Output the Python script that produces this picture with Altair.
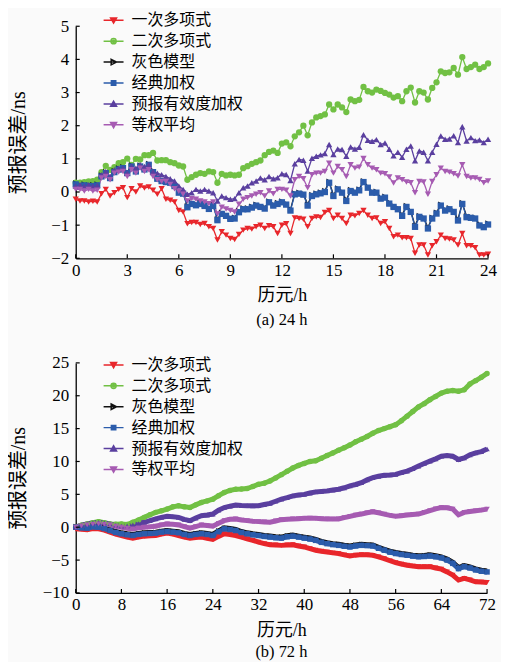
import altair as alt
import pandas as pd

FONT = "Liberation Serif, Noto Sans CJK SC"
CJK = "Noto Sans CJK SC"

series = ["一次多项式", "二次多项式", "灰色模型", "经典加权", "预报有效度加权", "等权平均"]
colors = ["#e8262b", "#71c044", "#111111", "#2b5cab", "#5a3f9f", "#a65bb2"]
markers = ["triangle-down", "circle", "triangle-right", "square", "triangle-up", "triangle-down"]
# legend glyphs: a short line with a small (outlined twice, so it reads as solid) marker
legend_paths = [
    "M-1,0H1M-0.3,-0.24L0.3,-0.24L0,0.28ZM-0.12,-0.14L0.12,-0.14L0,0.08Z",
    "M-1,0H1M0.26,0A0.26,0.26 0 1,1 -0.26,0A0.26,0.26 0 1,1 0.26,0ZM0.1,0A0.1,0.1 0 1,1 -0.1,0A0.1,0.1 0 1,1 0.1,0Z",
    "M-1,0H1M-0.24,-0.28L0.3,0L-0.24,0.28Z",
    "M-1,0H1M-0.22,-0.22H0.22V0.22H-0.22ZM-0.08,-0.08H0.08V0.08H-0.08Z",
    "M-1,0H1M-0.3,0.24L0.3,0.24L0,-0.28ZM-0.12,0.14L0.12,0.14L0,-0.08Z",
    "M-1,0H1M-0.3,-0.24L0.3,-0.24L0,0.28ZM-0.12,-0.14L0.12,-0.14L0,0.08Z",
]

# ---------------- (a) 24 h, 15-min epochs ----------------
hours_a = [i * 0.25 for i in range(97)]
xticks_a = [0, 3, 6, 9, 12, 15, 18, 21, 24]
yticks_a = [-2, -1, 0, 1, 2, 3, 4, 5]

red_a = [-0.22, -0.27, -0.27, -0.30, -0.28, -0.30, -0.05, 0.08, -0.12, -0.02, 0.08, 0.13,
         -0.17, 0.10, 0.00, 0.18, 0.12, 0.15, 0.05, -0.07, 0.10, -0.22, -0.25, -0.30,
         -0.56, -0.60, -0.96, -0.92, -0.92, -0.98, -0.95, -1.05, -1.10, -1.45, -1.20, -1.30,
         -1.40, -1.43, -1.28, -1.15, -1.10, -1.12, -1.05, -1.00, -1.10, -1.02, -1.05, -1.25,
         -1.00, -0.96, -1.25, -0.78, -0.80, -0.82, -1.05, -0.80, -0.75, -0.77, -0.62, -0.56,
         -0.80, -0.70, -0.80, -0.95, -0.70, -0.72, -0.65, -0.56, -0.70, -0.80, -0.78, -0.95,
         -0.90, -1.10, -1.35, -1.30, -1.38, -1.38, -1.40, -1.85, -1.60, -1.60, -1.90, -1.62,
         -1.50, -1.30, -1.40, -1.42, -1.45, -1.60, -1.25, -1.62, -1.62, -1.68, -1.90, -1.90,
         -1.88]
green_a = [0.28, 0.28, 0.30, 0.32, 0.33, 0.37, 0.60, 0.79, 0.67, 0.75, 0.87, 0.90,
           1.01, 0.82, 1.00, 0.98, 1.11, 1.11, 1.18, 0.95, 0.96, 0.96, 0.90, 0.87,
           0.80, 0.77, 0.37, 0.45, 0.52, 0.57, 0.55, 0.62, 0.60, 0.28, 0.55, 0.50,
           0.52, 0.50, 0.52, 0.72, 0.78, 0.85, 0.90, 0.95, 1.11, 1.21, 1.25, 1.18,
           1.46, 1.50, 1.38, 1.68, 1.80, 2.00, 1.71, 2.10, 2.25, 2.29, 2.34, 2.64,
           2.49, 2.64, 2.55, 2.41, 2.79, 2.74, 2.78, 3.17, 3.04, 3.00, 3.09, 3.05,
           2.99, 2.94, 2.85, 2.89, 2.74, 3.04, 3.15, 2.70, 3.04, 3.00, 2.79, 3.14,
           3.31, 3.64, 3.59, 3.61, 3.74, 3.54, 4.07, 3.71, 3.77, 3.84, 3.71, 3.77,
           3.88]
black_a = [0.26, 0.21, 0.23, 0.21, 0.21, 0.23, 0.50, 0.60, 0.45, 0.63, 0.71, 0.75,
           0.60, 0.80, 0.65, 0.80, 0.71, 0.85, 0.63, 0.43, 0.36, 0.33, 0.31, 0.21,
           0.01, -0.02, -0.43, -0.33, -0.37, -0.33, -0.39, -0.48, -0.39, -0.82, -0.63, -0.69,
           -0.78, -0.77, -0.58, -0.49, -0.49, -0.44, -0.38, -0.42, -0.47, -0.28, -0.38, -0.33,
           -0.28, -0.35, -0.53, -0.04, -0.02, -0.05, -0.38, -0.09, -0.04, -0.01, 0.03, 0.31,
           -0.09, 0.11, 0.01, -0.24, 0.06, 0.01, 0.08, 0.33, 0.16, 0.01, 0.01, -0.17,
           -0.14, -0.32, -0.42, -0.49, -0.69, -0.42, -0.57, -1.02, -0.72, -0.77, -1.07, -0.77,
           -0.62, -0.38, -0.53, -0.49, -0.57, -0.83, -0.33, -0.73, -0.75, -0.77, -0.98, -1.03,
           -0.95]
blue_a = [0.23, 0.18, 0.20, 0.18, 0.18, 0.20, 0.47, 0.57, 0.42, 0.60, 0.68, 0.72,
          0.57, 0.77, 0.62, 0.77, 0.68, 0.82, 0.60, 0.40, 0.33, 0.30, 0.28, 0.18,
          -0.02, -0.05, -0.46, -0.36, -0.40, -0.36, -0.42, -0.51, -0.42, -0.85, -0.66, -0.72,
          -0.81, -0.80, -0.61, -0.52, -0.52, -0.47, -0.41, -0.45, -0.50, -0.31, -0.41, -0.36,
          -0.31, -0.38, -0.56, -0.07, -0.05, -0.08, -0.41, -0.12, -0.07, -0.04, 0.00, 0.28,
          -0.12, 0.08, -0.02, -0.27, 0.03, -0.02, 0.05, 0.30, 0.13, -0.02, -0.02, -0.20,
          -0.17, -0.35, -0.45, -0.52, -0.72, -0.45, -0.60, -1.05, -0.75, -0.80, -1.10, -0.80,
          -0.65, -0.41, -0.56, -0.52, -0.60, -0.86, -0.36, -0.76, -0.78, -0.80, -1.01, -1.06,
          -0.98]
purple_a = [0.18, 0.22, 0.18, 0.22, 0.18, 0.20, 0.52, 0.62, 0.47, 0.67, 0.72, 0.72,
            0.57, 0.77, 0.72, 0.82, 0.77, 0.82, 0.62, 0.57, 0.52, 0.47, 0.40, 0.33,
            0.18, 0.08, -0.07, -0.02, 0.08, 0.03, 0.08, 0.03, -0.02, -0.27, -0.12, -0.17,
            -0.22, -0.20, -0.02, 0.13, 0.18, 0.28, 0.33, 0.42, 0.37, 0.47, 0.40, 0.43,
            0.55, 0.53, 0.35, 0.85, 0.98, 0.96, 0.63, 1.02, 1.08, 1.12, 1.16, 1.43,
            1.13, 1.30, 1.28, 1.08, 1.36, 1.30, 1.35, 1.73, 1.56, 1.53, 1.58, 1.43,
            1.48, 1.29, 1.09, 1.20, 1.05, 1.29, 1.39, 0.94, 1.24, 1.20, 0.94, 1.20,
            1.44, 1.69, 1.59, 1.60, 1.70, 1.49, 1.97, 1.54, 1.64, 1.55, 1.57, 1.49,
            1.59]
pink_a = [0.08, 0.08, 0.03, 0.08, 0.03, 0.05, 0.42, 0.47, 0.37, 0.57, 0.60, 0.62,
          0.47, 0.67, 0.57, 0.72, 0.62, 0.67, 0.47, 0.37, 0.32, 0.32, 0.23, 0.10,
          0.02, -0.07, -0.27, -0.20, -0.22, -0.27, -0.30, -0.35, -0.30, -0.66, -0.46, -0.51,
          -0.56, -0.60, -0.37, -0.22, -0.17, -0.12, -0.07, -0.02, -0.12, 0.03, -0.05, 0.08,
          0.08, 0.05, -0.12, 0.37, 0.47, 0.40, 0.13, 0.52, 0.57, 0.57, 0.62, 0.87,
          0.57, 0.77, 0.67, 0.47, 0.82, 0.72, 0.75, 1.01, 0.82, 0.72, 0.67, 0.57,
          0.55, 0.45, 0.27, 0.42, 0.37, 0.30, 0.28, -0.02, 0.32, 0.30, -0.07, 0.32,
          0.52, 0.72, 0.62, 0.60, 0.55, 0.48, 0.82, 0.47, 0.42, 0.42, 0.38, 0.28,
          0.33]

# ---------------- (b) 72 h, hourly readings ----------------
hours_b = list(range(73))
xticks_b = [0, 8, 16, 24, 32, 40, 48, 56, 64, 72]
yticks_b = [-10, -5, 0, 5, 10, 15, 20, 25]

red_b = [-0.25, -0.3, -0.4, -0.2, -0.25, -0.45, -0.75, -1.05, -1.26, -1.5, -1.66, -1.5, -1.36,
         -1.3, -1.26, -1.05, -0.9, -1.05, -1.26, -1.5, -1.66, -1.55, -1.5, -1.7, -1.86,
         -1.4, -1.0, -1.1, -1.26, -1.5, -1.76, -2.0, -2.26, -2.5, -2.66, -2.7, -2.76,
         -2.7, -2.66, -2.85, -3.0, -3.25, -3.5, -3.65, -3.77, -3.9, -4.0, -4.2, -4.37,
         -4.25, -4.17, -4.2, -4.27, -4.5, -4.77, -5.1, -5.38, -5.6, -5.78, -5.9, -6.0,
         -6.0, -6.0, -6.2, -6.38, -6.8, -7.29, -8.04, -7.79, -8.0, -8.3, -8.35, -8.4]
green_b = [0.0, 0.3, 0.5, 0.7, 0.85, 0.7, 0.5, 0.45, 0.5, 0.4, 0.75, 1.1, 1.5,
           1.9, 2.26, 2.5, 2.76, 3.1, 3.27, 3.1, 3.0, 3.4, 3.77, 4.0, 4.27,
           4.8, 5.28, 5.6, 5.78, 5.8, 5.88, 6.2, 6.53, 6.7, 7.03, 7.5, 8.0,
           8.5, 9.0, 9.4, 9.7, 10.0, 10.1, 10.5, 10.9, 11.3, 11.7, 12.1, 12.5,
           13.0, 13.4, 13.8, 14.3, 14.7, 15.0, 15.3, 15.6, 16.2, 16.9, 17.6, 18.3,
           18.8, 19.4, 19.9, 20.4, 20.7, 20.8, 20.7, 20.9, 21.8, 22.3, 22.8, 23.4]
black_b = [0.1, 0.05, 0.0, 0.2, 0.15, -0.05, -0.35, -0.65, -0.85, -1.0, -1.1, -0.95, -0.85,
           -0.8, -0.75, -0.6, -0.5, -0.6, -0.7, -0.95, -1.1, -0.95, -0.85, -0.95, -1.1,
           -0.55, -0.1, -0.2, -0.35, -0.65, -0.85, -1.0, -1.1, -1.25, -1.35, -1.45, -1.5,
           -1.3, -1.2, -1.35, -1.5, -1.65, -1.85, -2.15, -2.35, -2.5, -2.6, -2.75, -2.85,
           -2.7, -2.6, -2.65, -2.7, -3.05, -3.35, -3.65, -3.85, -4.0, -4.1, -4.25, -4.35,
           -4.3, -4.2, -4.35, -4.5, -4.85, -5.35, -6.15, -5.85, -6.05, -6.35, -6.55, -6.65]
blue_b = [0.0, -0.1, -0.15, 0.05, 0.0, -0.2, -0.5, -0.8, -1.0, -1.15, -1.26, -1.1, -1.0,
          -0.95, -0.9, -0.75, -0.65, -0.75, -0.85, -1.1, -1.26, -1.1, -1.0, -1.1, -1.26,
          -0.7, -0.25, -0.35, -0.5, -0.8, -1.0, -1.15, -1.26, -1.4, -1.5, -1.6, -1.66,
          -1.45, -1.36, -1.5, -1.66, -1.8, -2.0, -2.3, -2.5, -2.65, -2.76, -2.9, -3.0,
          -2.85, -2.76, -2.8, -2.86, -3.2, -3.5, -3.8, -4.0, -4.15, -4.27, -4.4, -4.5,
          -4.45, -4.37, -4.5, -4.67, -5.0, -5.5, -6.3, -6.0, -6.2, -6.5, -6.7, -6.8]
purple_b = [0.0, 0.3, 0.5, 0.65, 0.75, 0.65, 0.5, 0.3, 0.15, 0.2, 0.35, 0.55, 0.75,
            1.0, 1.26, 1.5, 1.66, 1.6, 1.5, 1.2, 1.0, 1.4, 1.76, 1.85, 2.0,
            2.6, 3.0, 3.2, 3.37, 3.3, 3.27, 3.25, 3.27, 3.45, 3.62, 3.95, 4.27,
            4.5, 4.77, 4.9, 5.0, 5.2, 5.38, 5.45, 5.53, 5.65, 5.78, 6.0, 6.28,
            6.5, 6.78, 7.2, 7.54, 7.75, 7.9, 7.95, 8.04, 8.3, 8.54, 8.9, 9.3,
            9.7, 10.05, 10.4, 10.8, 10.9, 10.8, 10.3, 10.55, 11.0, 11.3, 11.5, 11.9]
pink_b = [0.0, 0.2, 0.35, 0.45, 0.5, 0.45, 0.35, 0.15, 0.0, -0.15, -0.25, -0.1, 0.0,
          0.05, 0.15, 0.35, 0.5, 0.45, 0.35, 0.1, -0.15, 0.1, 0.35, 0.25, 0.15,
          0.6, 1.0, 1.2, 1.26, 1.1, 1.0, 0.9, 0.85, 0.8, 0.75, 0.95, 1.15,
          1.2, 1.26, 1.3, 1.36, 1.38, 1.36, 1.3, 1.26, 1.25, 1.26, 1.45, 1.66,
          1.85, 2.0, 2.2, 2.36, 2.2, 2.0, 1.8, 1.66, 1.75, 1.86, 1.95, 2.0,
          2.25, 2.51, 2.8, 3.0, 2.95, 2.76, 1.9, 2.26, 2.4, 2.5, 2.6, 2.76]


def long_table(hours, columns):
    rows = []
    for name, vals in zip(series, columns):
        for t, v in zip(hours, vals):
            rows.append({"t": t, "v": v, "s": name})
    return pd.DataFrame(rows)


def panel(hours, columns, xticks, yticks, w, h, legend_y, caption, ytitle_pad,
          xtitle_pad, cap_offset, line_w, pt_size):
    df = long_table(hours, columns)
    x = alt.X("t:Q", scale=alt.Scale(domain=[xticks[0], xticks[-1]], nice=False, zero=False),
              axis=alt.Axis(values=xticks, title="历元/h", tickSize=0, labelPadding=4,
                            titlePadding=xtitle_pad, titleFontSize=18, grid=False,
                            labelFlush=False, labelOverlap=False))
    y = alt.Y("v:Q", scale=alt.Scale(domain=[yticks[0], yticks[-1]], nice=False, zero=False),
              axis=alt.Axis(values=yticks, title="预报误差/ns", tickSize=0, labelPadding=7,
                            titlePadding=ytitle_pad, titleFontSize=20, grid=False,
                            labelFlush=False, labelOverlap=False))
    color = alt.Color("s:N", scale=alt.Scale(domain=series, range=colors), legend=None)
    shape = alt.Shape("s:N", scale=alt.Scale(domain=series, range=markers), legend=None)

    lines = alt.Chart(df).mark_line(strokeWidth=line_w).encode(x=x, y=y, color=color)
    points = alt.Chart(df).mark_point(filled=True, opacity=1, size=pt_size).encode(
        x=x, y=y, color=color, shape=shape)

    leg = alt.Legend(title=None, orient="none", legendX=27, legendY=legend_y,
                     symbolSize=400, symbolStrokeWidth=1.5, labelFont=CJK,
                     labelFontSize=16, labelColor="black", rowPadding=2,
                     labelOffset=7, padding=0)
    legend_layer = alt.Chart(df).transform_filter("false").mark_point(
        filled=False, opacity=1, strokeWidth=1.5).encode(
        x=x, y=y,
        color=alt.Color("s:N", scale=alt.Scale(domain=series, range=colors), legend=leg),
        shape=alt.Shape("s:N", scale=alt.Scale(domain=series, range=legend_paths), legend=leg),
    )

    ytick_df = pd.DataFrame({"v": yticks})
    xtick_df = pd.DataFrame({"t": xticks})
    yt = alt.Chart(ytick_df).mark_rule(color="black", strokeWidth=1.2).encode(
        y=y, x=alt.value(0), x2=alt.value(4))
    xt = alt.Chart(xtick_df).mark_rule(color="black", strokeWidth=1.2).encode(
        x=x, y=alt.value(h), y2=alt.value(h - 4))

    return alt.layer(lines, points, legend_layer, yt, xt).resolve_scale(
        shape="independent", color="independent").properties(
        width=w, height=h,
        title=alt.TitleParams(caption, orient="bottom", offset=cap_offset, frame="group",
                              anchor="middle"))


top = panel(hours_a, [red_a, green_a, black_a, blue_a, purple_a, pink_a],
            xticks_a, yticks_a, 414, 233, -17, "(a) 24 h", 22, 8, 8, 1.3, 40)
bottom = panel(hours_b, [red_b, green_b, black_b, blue_b, purple_b, pink_b],
               xticks_b, yticks_b, 413, 231, -9, "(b) 72 h", 14, 9, 4, 5, 30)

chart = alt.vconcat(top, bottom, spacing=105, bounds="flush").resolve_scale(
    x="independent", y="independent", color="independent", shape="independent"
).resolve_legend(color="independent", shape="independent").properties(
    background="#fafafa", padding={"left": 0, "top": 0, "right": 4, "bottom": 0}
).configure_view(stroke=None).configure_axis(
    domainColor="black", domainWidth=1.3, labelColor="black", titleColor="black",
    labelFont=FONT, labelFontSize=17, titleFont=FONT,
    titleFontWeight="normal").configure_title(
    font=FONT, fontSize=16.5, fontWeight="normal", color="black")

chart.save("out.html", embed_options={"renderer": "svg", "actions": False})
